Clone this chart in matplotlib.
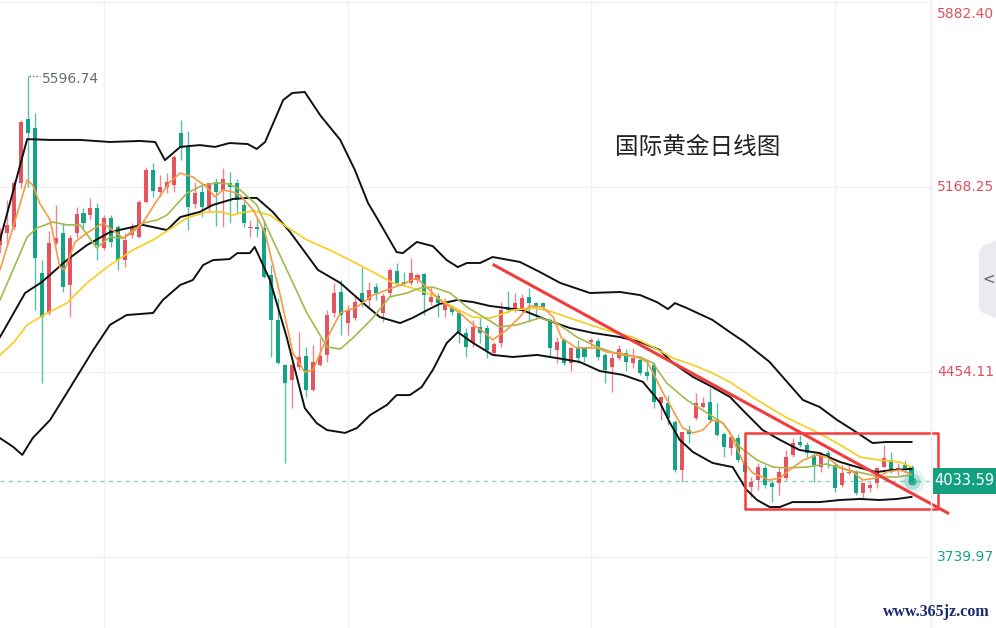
import numpy as np
import matplotlib
matplotlib.use("Agg")
from matplotlib import pyplot as plt
from matplotlib.patches import Rectangle, Polygon
import matplotlib.transforms as mtransforms

plt.rcParams['font.family'] = ['DejaVu Sans', 'Noto Sans CJK SC']

# daily gold candles (oldest -> newest)
opens = [4945, 4990, 5014, 5183, 5430, 5396, 4836, 4681, 4952, 4990,
         4790, 4990, 5067, 5060, 5087, 4933, 5048, 5014, 4886, 4983,
         4975, 5110, 5234, 5149, 5168, 5176, 5376, 5327, 5103, 5149,
         5091, 5187, 5157, 5183, 5183, 5099, 5010, 5014, 5010, 4829,
         4655, 4481, 4423, 4473, 4516, 4385, 4481, 4520, 4681, 4763,
         4643, 4662, 4759, 4732, 4782, 4681, 4759, 4844, 4801, 4797,
         4809, 4833, 4724, 4748, 4693, 4705, 4681, 4605, 4566, 4628,
         4624, 4527, 4566, 4701, 4693, 4693, 4744, 4720, 4720, 4655,
         4539, 4578, 4488, 4551, 4547, 4570, 4574, 4520, 4473, 4508,
         4527, 4488, 4500, 4454, 4481, 4334, 4334, 4261, 4076, 4230,
         4277, 4319, 4338, 4269, 4215, 4161, 4199, 4107, 4010, 4037,
         4084, 4026, 4026, 4045, 4134, 4184, 4172, 4134, 4087, 4141,
         4095, 4018, 4064, 4068, 3987, 4007, 4026, 4087, 4114, 4076,
         4095, 4087]
highs = [5010, 5118, 5195, 5427, 5596.74, 5454, 4886, 4998, 5099, 5029,
         4983, 5091, 5087, 5126, 5106, 5060, 5060, 5022, 4990, 5029,
         5118, 5245, 5260, 5215, 5222, 5290, 5427, 5384, 5187, 5183,
         5187, 5203, 5242, 5226, 5199, 5118, 5041, 5048, 5041, 4867,
         4740, 4485, 4488, 4608, 4551, 4559, 4585, 4693, 4797, 4809,
         4713, 4744, 4859, 4801, 4797, 4759, 4855, 4874, 4840, 4894,
         4836, 4836, 4782, 4759, 4740, 4713, 4693, 4624, 4655, 4662,
         4636, 4570, 4724, 4767, 4759, 4755, 4778, 4724, 4724, 4662,
         4589, 4585, 4551, 4578, 4551, 4585, 4585, 4527, 4527, 4559,
         4543, 4547, 4508, 4500, 4492, 4358, 4365, 4269, 4222, 4250,
         4373, 4358, 4392, 4334, 4222, 4211, 4215, 4134, 4049, 4103,
         4095, 4037, 4087, 4153, 4199, 4211, 4184, 4141, 4145, 4153,
         4103, 4095, 4095, 4076, 4030, 4030, 4087, 4172, 4145, 4103,
         4114, 4095]
lows = [4913, 4945, 5002, 5164, 5168, 4693, 4411, 4674, 4945, 4763,
        4666, 4972, 5006, 5041, 4886, 4925, 4937, 4848, 4859, 4972,
        4972, 5106, 5130, 5130, 5145, 5149, 5272, 5002, 5087, 5052,
        5071, 5018, 5014, 5029, 5067, 5014, 4975, 4975, 4817, 4512,
        4486, 4102, 4315, 4462, 4358, 4382, 4478, 4492, 4666, 4597,
        4597, 4655, 4705, 4705, 4732, 4647, 4744, 4790, 4790, 4790,
        4797, 4674, 4713, 4666, 4666, 4674, 4566, 4512, 4551, 4566,
        4508, 4516, 4551, 4685, 4685, 4685, 4647, 4666, 4693, 4516,
        4488, 4481, 4458, 4488, 4492, 4551, 4500, 4411, 4377, 4500,
        4458, 4469, 4442, 4423, 4315, 4269, 4250, 4068, 4030, 4180,
        4269, 4315, 4261, 4207, 4126, 4134, 4107, 4045, 3972, 3999,
        4007, 3952, 3980, 4037, 4126, 4165, 4126, 4030, 4068, 4084,
        3991, 4010, 4057, 3980, 3964, 3991, 4007, 4084, 4064, 4057,
        4076, 4030]
closes = [4990, 5022, 5183, 5419, 5376, 4894, 4666, 4952, 4972, 4782,
          4972, 5064, 5029, 5087, 4945, 5048, 4956, 4886, 4964, 5010,
          5110, 5234, 5153, 5168, 5187, 5284, 5319, 5091, 5145, 5091,
          5183, 5149, 5199, 5168, 5118, 5029, 5014, 5006, 4821, 4655,
          4488, 4411, 4481, 4512, 4385, 4492, 4516, 4674, 4759, 4674,
          4693, 4724, 4724, 4771, 4759, 4748, 4848, 4797, 4794, 4836,
          4829, 4752, 4744, 4720, 4720, 4685, 4608, 4551, 4628, 4605,
          4539, 4563, 4693, 4693, 4720, 4740, 4720, 4705, 4705, 4547,
          4570, 4488, 4547, 4508, 4512, 4578, 4512, 4462, 4508, 4543,
          4492, 4508, 4450, 4438, 4338, 4358, 4277, 4076, 4222, 4215,
          4334, 4334, 4269, 4211, 4165, 4203, 4114, 4068, 4030, 4087,
          4018, 4010, 4068, 4126, 4180, 4172, 4141, 4095, 4141, 4122,
          4007, 4064, 4068, 3987, 4026, 4018, 4084, 4122, 4068, 4084,
          4084, 4033.59]

# indicator lines (candle index, price)
boll_up_x = [0, 3.9, 7.2, 11.5, 15.8, 20.1, 22.3, 23.7, 25.9, 28.7, 30.9, 33.0, 35.6, 36.9, 38.1,
             40.7, 42.0, 43.8, 46.0, 48.9, 51.0, 52.9, 54.6, 57.0, 57.9, 59.9, 62.2, 64.2, 65.8,
             67.1, 69.0, 70.8, 74.7, 77.6, 80.5, 84.8, 89.1, 92.0, 94.4, 96.0, 97.0, 98.7, 102.4,
             104.9, 107.0, 110.6, 113.5, 115.4, 117.8, 120.3, 122.6, 125.4, 127.4, 131.0]
boll_up = [4964, 5353, 5350, 5350, 5342, 5346, 5342, 5272, 5323, 5330, 5323, 5338, 5334, 5315, 5342,
           5504, 5531, 5535, 5446, 5350, 5234, 5106, 5029, 4917, 4913, 4956, 4940, 4886, 4859,
           4875, 4875, 4898, 4879, 4840, 4798, 4759, 4763, 4751, 4724, 4697, 4720, 4701, 4655,
           4608, 4570, 4493, 4404, 4346, 4319, 4269, 4230, 4180, 4184, 4184]
boll_mid_x = [0, 3.6, 6.0, 9.6, 12.5, 15.8, 19.1, 20.5, 24.0, 25.9, 28.7, 30.6, 33.5, 35.5, 36.9,
              39.2, 41.7, 45.7, 48.9, 52.2, 54.6, 57.5, 59.3, 61.4, 63.2, 65.7, 68.0, 70.4, 75.1,
              78.6, 81.9, 85.2, 89.1, 92.0, 94.8, 96.7, 99.6, 102.4, 104.9, 107.0, 109.6, 112.1,
              114.9, 117.8, 120.7, 123.6, 126.0, 128.3, 131.0]
boll_mid = [4589, 4759, 4801, 4886, 4944, 4994, 5014, 5022, 5002, 5052, 5072, 5099, 5122, 5126, 5126,
            5072, 4994, 4848, 4798, 4720, 4666, 4643, 4663, 4693, 4717, 4732, 4724, 4709, 4693,
            4655, 4624, 4605, 4589, 4570, 4539, 4489, 4435, 4396, 4358, 4300, 4230, 4192,
            4153, 4141, 4107, 4084, 4068, 4076, 4080]
boll_dn_x = [0, 1.9, 3.2, 4.7, 7.2, 9.6, 13.4, 15.8, 18.2, 22.0, 23.4, 25.9, 27.7, 29.2, 30.6,
             33.0, 34.1, 35.9, 36.6, 38.8, 41.2, 43.8, 45.5, 47.0, 49.6, 51.3, 53.2, 55.6, 57.0,
             58.9, 60.6, 62.2, 64.2, 65.8, 68.0, 70.8, 73.7, 77.2, 80.0, 83.3, 86.2, 89.5, 92.4,
             94.8, 96.3, 97.7, 99.6, 102.4, 105.3, 107.3, 108.8, 110.6, 112.1, 113.9, 117.8,
             120.7, 123.6, 126.4, 128.9, 131.0]
boll_dn = [4199, 4165, 4134, 4199, 4269, 4373, 4539, 4636, 4674, 4682, 4732, 4790, 4809, 4867, 4886,
           4890, 4913, 4913, 4937, 4809, 4589, 4315, 4257, 4230, 4219, 4238, 4288, 4327, 4365,
           4365, 4396, 4462, 4566, 4608, 4566, 4520, 4512, 4520, 4508, 4493, 4458, 4443, 4416,
           4338, 4257, 4192, 4145, 4103, 4087, 3999, 3960, 3933, 3933, 3952, 3952,
           3960, 3964, 3960, 3964, 3972]
ma5_x = [0, 1.9, 3.9, 4.7, 5.7, 7.2, 8.6, 9.3, 10.8, 12.5, 14.8, 16.2, 17.7, 19.1, 20.5, 22.6,
         24.4, 25.9, 27.7, 29.7, 30.9, 32.0, 33.5, 34.5, 36.4, 38.1, 40.2, 42.1, 43.8, 45.0,
         46.4, 48.9, 51.3, 53.6, 55.6, 57.9, 59.9, 60.8, 63.6, 66.1, 68.0, 69.5, 70.8, 72.8,
         74.7, 76.1, 78.0, 79.5, 80.7, 82.9, 85.8, 87.2, 89.1, 91.5, 93.0, 93.8, 95.3, 96.7,
         98.1, 99.6, 101.0, 102.4, 103.9, 104.9, 106.8, 108.2, 110.6, 112.1, 113.5, 115.4,
         117.4, 118.8, 120.7, 122.6, 124.0, 126.0, 127.4, 129.3, 131.0]
ma5 = [4848, 5014, 5195, 5176, 5106, 5041, 4859, 4848, 4956, 4991, 5029, 5002, 4971, 4994, 5029, 5118,
       5187, 5222, 5207, 5168, 5130, 5157, 5149, 5137, 5079, 4991, 4759, 4527, 4454, 4462,
       4551, 4682, 4705, 4751, 4771, 4794, 4817, 4794, 4724, 4682, 4636, 4610, 4578, 4616,
       4666, 4709, 4705, 4666, 4585, 4547, 4547, 4531, 4527, 4512, 4493, 4454, 4373, 4307,
       4238, 4219, 4230, 4269, 4257, 4219, 4107, 4064, 4037, 4045, 4076, 4114,
       4134, 4126, 4087, 4068, 4037, 4045, 4068, 4076, 4060]
ma10_x = [0, 3.9, 5.3, 7.6, 9.6, 11.5, 13.9, 15.8, 17.7, 20.5, 22.6, 24.0, 26.9, 29.2, 31.2, 33.0,
          34.5, 36.9, 39.2, 41.7, 44.1, 47.0, 48.9, 50.7, 53.6, 56.0, 58.5, 60.3, 62.2, 64.7,
          67.1, 69.0, 71.8, 74.3, 77.6, 80.0, 82.9, 85.8, 89.1, 92.0, 93.8, 95.8, 98.7, 101.6,
          103.9, 106.3, 108.8, 111.1, 113.1, 115.9, 118.8, 121.7, 124.0, 126.4, 128.9, 131.0]
ma10 = [4732, 4975, 5010, 5033, 5022, 5022, 4933, 4975, 4971, 5029, 5041, 5060, 5145, 5176, 5184, 5180,
        5157, 5099, 4964, 4821, 4682, 4551, 4543, 4585, 4663, 4744, 4759, 4778, 4782, 4759,
        4705, 4674, 4628, 4636, 4663, 4643, 4589, 4551, 4520, 4512, 4489, 4412, 4346, 4296,
        4257, 4165, 4114, 4087, 4084, 4087, 4099, 4076, 4064, 4049, 4049, 4057]
ma30_x = [0, 1.9, 3.9, 6.8, 9.6, 12.5, 15.8, 19.1, 22.0, 24.9, 26.9, 29.7, 31.6, 33.5, 34.5, 36.4,
          38.8, 41.2, 44.1, 47.4, 50.3, 53.6, 56.5, 59.3, 62.2, 65.1, 68.0, 70.4, 71.8, 73.7,
          76.6, 78.6, 81.5, 84.8, 88.1, 90.9, 93.8, 96.7, 99.6, 102.4, 104.9, 108.8, 113.1,
          116.8, 120.3, 123.6, 126.4, 129.3, 131.0]
ma30 = [4520, 4566, 4636, 4682, 4720, 4798, 4867, 4925, 4964, 5014, 5049, 5072, 5072, 5060, 5068, 5076,
        5060, 5014, 4964, 4925, 4886, 4840, 4798, 4778, 4751, 4705, 4666, 4662, 4674, 4693,
        4701, 4693, 4666, 4636, 4608, 4589, 4551, 4508, 4481, 4450, 4415, 4346, 4277,
        4230, 4180, 4126, 4114, 4107, 4087]

axis_prices = [5882.40, 5168.25, 4454.11, 3739.97]
last_price = 4033.59
peak_label = "5596.74"
title = "国际黄金日线图"

UP = '#e5535f'
DOWN = '#14a384'

fig = plt.figure(figsize=(9.96, 6.28), dpi=100)
ax = fig.add_axes([0, 0, 931 / 996, 1])
ax.set_xlim(0, 133.8)
ax.set_ylim(3465.9, 5890.1)
for s in ax.spines.values():
    s.set_visible(False)
ax.set_xticks([])
ax.set_yticks([])

# grid
for p in axis_prices:
    ax.axhline(p, color='#f0f0f3', lw=1, zorder=0)
for gx in [15, 50, 85, 120]:
    ax.axvline(gx, color='#f0f0f3', lw=1, zorder=0)

# candles
idx = np.arange(len(closes))
for i in idx:
    o, h, l, c = opens[i], highs[i], lows[i], closes[i]
    col = UP if c >= o else DOWN
    ax.vlines(i, l, h, color=col, lw=1, alpha=0.7, zorder=2)
    body = max(abs(c - o), 4)
    ax.bar(i, body, bottom=min(o, c), width=0.58, color=col, lw=0, zorder=3)

# indicators
ax.plot(boll_up_x, boll_up, color='#111111', lw=1.4, zorder=4)
ax.plot(boll_mid_x, boll_mid, color='#111111', lw=1.4, zorder=4)
ax.plot(boll_dn_x, boll_dn, color='#111111', lw=1.4, zorder=4)
ax.plot(ma30_x, ma30, color='#f7cd1e', lw=1.2, zorder=4)
ax.plot(ma10_x, ma10, color='#a5b84c', lw=1.2, zorder=4)
ax.plot(ma5_x, ma5, color='#f59a45', lw=1.2, zorder=4)

# last price dashed line + pulse
ax.axhline(last_price, color='#84d2c2', lw=1, ls=(0, (3, 3)), zorder=1)
ax.scatter([idx[-1]], [last_price], s=320, color=DOWN, alpha=0.12, lw=0, zorder=5)
ax.scatter([idx[-1]], [last_price], s=140, color=DOWN, alpha=0.25, lw=0, zorder=5)
ax.scatter([idx[-1]], [last_price], s=35, color=DOWN, alpha=0.8, lw=0, zorder=5)

# peak marker
ax.plot([4.2, 5.8], [highs[4], highs[4]], color='#666666', lw=1, ls=(0, (1, 1.5)), zorder=5)
ax.text(6.0, highs[4] - 10, peak_label, color='#666a72', fontsize=10, va='center', ha='left')

# hand-drawn annotations
ax.plot([71.0, 136.2], [4867, 3910], color='#f23c3c', lw=2.2, clip_on=False, zorder=6)
ax.add_patch(Rectangle((107.0, 3925), 27.8, 294, fill=False, ec='#f23c3c', lw=1.8,
                       joinstyle='round', clip_on=False, zorder=6))

ax.text(100.3, 5320, title, fontsize=17, family=['Noto Sans CJK SC', 'DejaVu Sans'],
        color='#222222', ha='center', va='center')

# right price scale
fig.add_artist(plt.Line2D([931 / 996, 931 / 996], [0, 1], color='#ececf0', lw=1))
tr = mtransforms.blended_transform_factory(fig.transFigure, ax.transData)
fig.text(937 / 996, 1 - 14 / 628, "%.2f" % axis_prices[0], color='#e0505b', fontsize=10, va='center')
fig.text(937 / 996, axis_prices[1], "%.2f" % axis_prices[1], color='#e0505b', fontsize=10,
         va='center', transform=tr)
fig.text(937 / 996, axis_prices[2], "%.2f" % axis_prices[2], color='#e0505b', fontsize=10,
         va='center', transform=tr)
fig.text(937 / 996, axis_prices[3], "%.2f" % axis_prices[3], color='#1aa285', fontsize=10,
         va='center', transform=tr)
fig.add_artist(Rectangle((933 / 996, 134 / 628), 63 / 996, 26 / 628, transform=fig.transFigure,
                         color='#12a080', lw=0))
fig.text(964.5 / 996, last_price, "%.2f" % last_price, color='white', fontsize=10.5,
         ha='center', va='center', transform=tr)

# collapse tab
tab = Polygon([(996, 240), (983, 246), (979, 252), (979, 310), (983, 313), (996, 318)],
              closed=True, color='#ebebef', lw=0)
tab.set_transform(mtransforms.Affine2D().scale(1 / 996, -1 / 628).translate(0, 1) + fig.transFigure)
fig.add_artist(tab)
fig.text(988.5 / 996, 1 - 279 / 628, "<", color='#606570', fontsize=11, ha='center', va='center')

fig.text(990 / 996, 1 - 612 / 628, "www.365jz.com", color='#1b2a6b', fontsize=11.5,
         family='Liberation Serif', weight='bold', ha='right', va='center')

fig.savefig("out.png", dpi=100)
